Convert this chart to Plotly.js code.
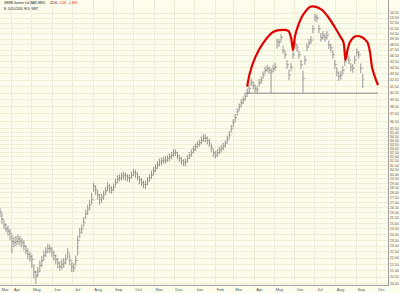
<!DOCTYPE html>
<html><head><meta charset="utf-8">
<script src="https://cdn.plot.ly/plotly-3.0.1.min.js"></script>
<style>html,body{margin:0;padding:0;background:#fff}#chart{width:400px;height:293px}</style>
</head><body><div id="chart"></div>
<script>
// ---- data ----
const firstBarDate = [2005, 2, 14];   // first bar (UTC y, m0, d)
const barStepDays = 3;                // spacing of the bars
const closes = [
26.1,25.4,24.9,24.5,24.3,24.1,23.4,23.3,23.4,23.6,
23.4,23.3,23.0,22.6,22.3,22.1,21.9,20.9,20.6,20.9,
21.4,21.8,22.2,22.5,22.8,22.8,22.5,22.2,21.9,21.6,
21.3,21.5,21.6,21.9,22.4,21.8,21.3,21.2,21.8,23.5,
24.2,24.5,25.1,25.9,26.3,26.8,27.3,28.7,28.3,27.8,
27.3,27.5,27.8,28.2,28.7,28.5,28.3,28.6,29.1,29.5,
29.6,29.8,29.9,29.8,29.6,29.6,29.9,30.2,30.1,29.7,
29.4,29.1,28.9,28.9,29.3,29.6,29.9,30.4,30.7,31.1,
31.4,31.5,31.6,31.6,31.8,32.0,32.2,32.5,32.5,32.1,
31.8,31.6,31.3,31.4,31.8,32.2,32.5,32.9,33.2,33.5,
33.7,34.0,34.3,34.3,34.0,33.7,33.1,32.5,32.2,32.5,
32.8,33.0,33.3,33.6,34.1,34.7,35.5,36.3,37.0,37.8,
38.5,39.1,39.5,40.0,40.6,41.2,42.2,41.7,41.2,41.0,
42.1,42.5,43.3,44.1,44.4,44.1,43.8,44.4,44.6,49.0,
48.9,49.8,47.5,46.7,45.0,43.3,44.6,46.7,48.4,47.9,
46.7,45.0,42.8,45.8,48.0,48.8,49.3,51.4,53.7,53.5,
51.4,49.8,50.2,49.8,50.2,48.4,47.9,46.7,45.0,43.8,
43.1,43.3,44.1,45.5,46.7,45.8,44.6,44.4,45.8,47.1,
46.7,44.4,42.6];
const highs = [
26.5,26.0,25.3,25.0,24.8,24.5,24.0,23.8,23.9,24.0,
23.9,23.7,23.5,23.1,22.8,22.5,22.3,21.5,21.0,21.3,
21.8,22.2,22.6,22.9,23.2,23.1,22.9,22.6,22.3,22.0,
21.7,21.9,22.0,22.3,22.8,22.3,21.7,21.6,22.2,23.9,
24.6,24.9,25.6,26.3,26.8,27.3,28.0,29.1,28.8,28.3,
27.9,27.9,28.2,28.6,29.1,28.9,28.7,29.0,29.5,29.9,
30.0,30.2,30.3,30.2,30.0,30.0,30.3,30.6,30.5,30.2,
29.8,29.6,29.3,29.3,29.7,30.0,30.4,30.8,31.1,31.5,
31.8,31.9,32.0,32.1,32.2,32.4,32.6,32.9,32.9,32.6,
32.2,32.0,31.7,31.8,32.2,32.6,32.9,33.3,33.6,33.9,
34.1,34.5,34.8,34.8,34.5,34.2,33.6,33.0,32.7,32.9,
33.2,33.4,33.7,34.0,34.6,35.2,36.0,36.8,37.5,38.3,
39.0,39.6,40.0,40.5,41.2,41.8,42.8,42.3,41.8,41.6,
42.7,43.1,43.9,44.7,45.0,44.7,44.4,45.0,45.3,49.6,
49.5,50.4,48.3,47.4,45.8,44.2,45.3,47.4,49.1,48.6,
47.4,45.8,44.0,46.5,48.7,49.5,50.0,52.1,54.4,54.2,
52.2,50.6,51.0,50.5,51.0,49.2,48.6,47.5,45.8,44.6,
43.8,44.0,44.8,46.2,47.4,46.5,45.3,45.1,46.5,47.8,
47.4,45.2,43.5];
const lows = [
25.6,25.0,24.5,24.2,23.9,23.5,22.4,22.9,23.0,23.1,
23.0,22.9,22.6,22.3,21.9,21.7,21.2,20.4,20.0,20.5,
20.9,21.3,21.8,22.1,22.4,22.4,22.1,21.8,21.5,21.2,
21.0,21.1,21.2,21.5,22.0,21.4,20.9,20.9,21.4,22.2,
23.7,24.1,24.7,25.4,25.8,26.3,26.9,28.1,27.8,27.3,
26.8,27.0,27.3,27.8,28.2,28.0,27.9,28.2,28.7,29.0,
29.2,29.3,29.4,29.3,29.2,29.1,29.5,29.8,29.6,29.3,
28.9,28.7,28.5,28.4,28.8,29.2,29.5,29.9,30.2,30.6,
30.9,31.0,31.2,31.2,31.4,31.5,31.7,32.0,32.1,31.7,
31.4,31.1,30.9,30.9,31.3,31.7,32.0,32.4,32.7,33.0,
33.2,33.5,33.8,33.8,33.5,33.2,32.6,32.0,31.8,32.0,
32.3,32.5,32.8,33.1,33.6,34.2,35.0,35.7,36.4,37.2,
37.9,38.5,38.9,39.4,40.0,40.5,41.6,41.1,40.6,40.5,
41.5,41.9,42.7,43.5,43.8,43.5,40.5,43.8,44.0,47.8,
48.1,49.0,46.9,46.0,44.3,42.5,43.9,46.0,47.7,47.2,
46.0,44.3,40.6,45.0,47.3,48.1,48.6,50.6,52.9,52.7,
50.6,49.0,49.4,49.0,49.4,47.7,47.1,46.0,44.3,43.1,
42.4,42.6,43.4,44.8,46.0,45.1,43.9,43.7,45.1,46.4,
46.0,43.6,41.3];

// hand-drawn head & shoulders outline
const patternDates = ['2006-03-21','2006-03-25','2006-04-02','2006-04-14','2006-04-29','2006-05-14',
  '2006-05-22','2006-05-26','2006-05-29','2006-06-01','2006-06-06','2006-06-13','2006-06-24',
  '2006-07-01','2006-07-12','2006-07-21','2006-07-31','2006-08-08','2006-08-13','2006-08-16',
  '2006-08-19','2006-08-23','2006-08-31','2006-09-10','2006-09-18','2006-09-22','2006-09-25',
  '2006-09-30','2006-10-04'];
const patternPrices = [41.5,43.6,46.2,48.75,50.8,51.2,51.0,49.8,47.5,50.0,52.1,54.1,55.8,
  55.8,55.1,53.7,51.7,50.0,48.9,45.8,47.5,49.0,50.0,49.8,48.9,47.1,44.6,42.8,41.75];
const necklineDates = ['2006-03-17','2006-10-04'];
const necklinePrices = [40.5, 40.5];

const priceTicks = [54.5,53.5,52.5,51.5,50.5,49.5,48.5,47.5,46.5,45.5,44.5,43.5,42.5,41.5,40.5,
  39.5,38.5,37.5,36.5,35.5,35,34.5,34,33.5,33,32.5,32,31.5,31,30.5,30,29.5,29,28.5,28,27.5,27,
  26.5,26,25.5,25,24.5,24,23.5,23,22.5,22,21.5,21,20.5,20];
const monthTicks = ['2005-03-14','2005-04-01','2005-05-01','2005-06-01','2005-07-01','2005-08-01',
  '2005-09-01','2005-10-01','2005-11-01','2005-12-01','2006-01-01','2006-02-01','2006-03-01',
  '2006-04-01','2006-05-01','2006-06-01','2006-07-01','2006-08-01','2006-09-01','2006-10-01'];
const monthLabels = ['Mar','Apr','May','Jun','Jul','Aug','Sep','Oct','Nov','Dec','Jan','Feb','Mar',
  'Apr','May','Jun','Jul','Aug','Sep','Oct'];

// ---- build ----
const barDates = closes.map((_, i) =>
  new Date(Date.UTC(firstBarDate[0], firstBarDate[1], firstBarDate[2] + i * barStepDays))
    .toISOString().slice(0, 10));
const opens = [closes[0]].concat(closes.slice(0, -1));

const bg = '#fdfdee', grid = '#f0eed6';
const traces = [
  {type:'ohlc', x:barDates, open:opens, high:highs, low:lows, close:closes,
   increasing:{line:{color:'#8a8a8a', width:0.9}}, decreasing:{line:{color:'#8a8a8a', width:0.9}},
   tickwidth:0.45, hoverinfo:'skip', showlegend:false},
  {type:'scatter', mode:'lines', x:necklineDates, y:necklinePrices,
   line:{color:'#8a8a8a', width:1}, hoverinfo:'skip', showlegend:false},
  {type:'scatter', mode:'lines', x:patternDates, y:patternPrices,
   line:{color:'#e00000', width:2.2, shape:'spline', smoothing:0.8}, hoverinfo:'skip', showlegend:false}
];
const layout = {
  width:400, height:293, margin:{l:0, r:12, t:0, b:8},
  paper_bgcolor:bg, plot_bgcolor:bg,
  font:{family:'Arial, Liberation Sans, sans-serif', color:'#444'},
  xaxis:{type:'date', range:['2005-03-14','2006-10-19'], tickmode:'array', tickvals:monthTicks,
    ticktext:monthLabels, tickfont:{size:4.2, color:'#555'}, gridcolor:grid, gridwidth:1,
    showline:true, linecolor:'#a0a0a0', linewidth:1, mirror:true, ticks:'',
    ticklabelshift:5, rangeslider:{visible:false}, fixedrange:true, zeroline:false},
  yaxis:{type:'log', range:[1.2991, 1.7573], side:'right', tickmode:'array', tickvals:priceTicks,
    tickformat:'.2f', tickfont:{size:3.6, color:'#555'}, gridcolor:grid, gridwidth:1,
    showline:true, linecolor:'#a0a0a0', linewidth:1, mirror:true, ticks:'', fixedrange:true, zeroline:false},
  annotations:[
    {xref:'paper', yref:'paper', x:2/388, y:1-3.3/285, xanchor:'left', yanchor:'middle', showarrow:false,
     text:'GRMN Garmin Ltd (NAS,NMS)', font:{size:3.0, color:'#222'}},
    {xref:'paper', yref:'paper', x:48/388, y:1-3.3/285, xanchor:'left', yanchor:'middle', showarrow:false,
     text:'42.61', font:{size:3.0, color:'#222'}},
    {xref:'paper', yref:'paper', x:57/388, y:1-3.3/285, xanchor:'left', yanchor:'middle', showarrow:false,
     text:'-0.56', font:{size:3.0, color:'#e00000'}},
    {xref:'paper', yref:'paper', x:66/388, y:1-3.3/285, xanchor:'left', yanchor:'middle', showarrow:false,
     text:'-1.30%', font:{size:3.0, color:'#e00000'}},
    {xref:'paper', yref:'paper', x:2/388, y:1-8.7/285, xanchor:'left', yanchor:'middle', showarrow:false,
     text:'B: 10/10/2006  RLV: 9887', font:{size:3.0, color:'#222'}}
  ]
};
Plotly.newPlot('chart', traces, layout, {staticPlot:true, displayModeBar:false});
</script>
</body></html>
